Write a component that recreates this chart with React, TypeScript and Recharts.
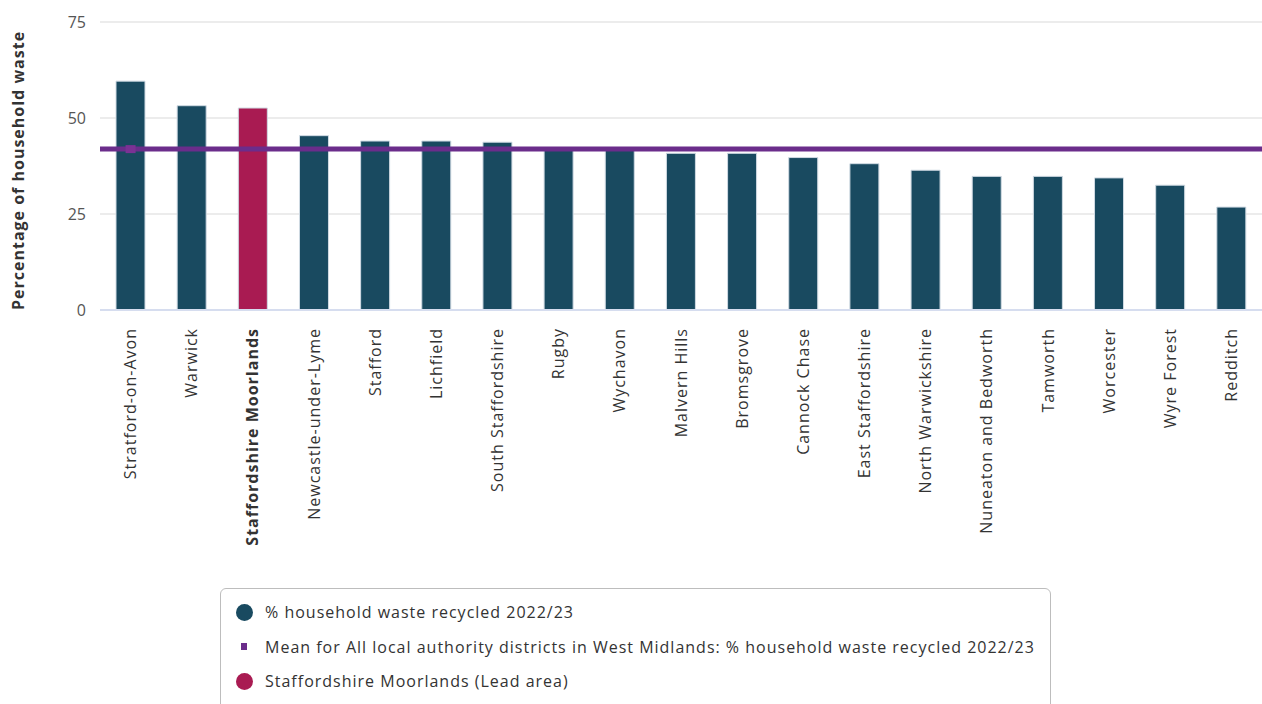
import React from "react";
import {
  BarChart,
  Bar,
  XAxis,
  YAxis,
  CartesianGrid,
  Cell,
  ReferenceLine,
  ReferenceDot,
} from "recharts";

const categories = [
  "Stratford-on-Avon",
  "Warwick",
  "Staffordshire Moorlands",
  "Newcastle-under-Lyme",
  "Stafford",
  "Lichfield",
  "South Staffordshire",
  "Rugby",
  "Wychavon",
  "Malvern Hills",
  "Bromsgrove",
  "Cannock Chase",
  "East Staffordshire",
  "North Warwickshire",
  "Nuneaton and Bedworth",
  "Tamworth",
  "Worcester",
  "Wyre Forest",
  "Redditch",
];

const recycled = [
  59.6, 53.2, 52.6, 45.4, 44.0, 44.0, 43.7, 42.3, 42.2, 40.8, 40.8, 39.7, 38.1,
  36.4, 34.8, 34.8, 34.4, 32.5, 26.8,
];

const meanValue = 41.9;
const leadArea = "Staffordshire Moorlands";
const yTicks = [0, 25, 50, 75];

const legendItems = [
  { label: "% household waste recycled 2022/23", kind: "circle", color: "#194a60" },
  {
    label:
      "Mean for All local authority districts in West Midlands: % household waste recycled 2022/23",
    kind: "square",
    color: "#6b2d8b",
  },
  { label: "Staffordshire Moorlands (Lead area)", kind: "circle", color: "#a91b52" },
];

const BAR = "#194a60";
const LEAD = "#a91b52";
const MEAN = "#6b2d8b";
const FONT = "'Open Sans', sans-serif";

const data = categories.map((name, i) => ({ name, value: recycled[i] }));

function XTick(props: any) {
  const { x, y, payload } = props;
  const bold = payload.value === leadArea;
  const ty = y + 10;
  return (
    <text
      x={x}
      y={ty}
      transform={`rotate(-90, ${x}, ${ty})`}
      textAnchor="end"
      dy="0.35em"
      fontSize={16}
      letterSpacing={1}
      fontFamily={FONT}
      fontWeight={bold ? 700 : 400}
      fill="#333"
    >
      {payload.value}
    </text>
  );
}

export default function App() {
  return (
    <div
      style={{
        position: "absolute",
        left: 0,
        top: 0,
        width: 1262,
        height: 704,
        background: "#fff",
        fontFamily: FONT,
        overflow: "hidden",
      }}
    >
      <BarChart
        width={1262}
        height={580}
        data={data}
        margin={{ top: 22, right: 0, bottom: 0, left: 0 }}
        barSize={29}
      >
        <CartesianGrid vertical={false} stroke="#e6e6e6" strokeWidth={1.5} />
        <XAxis
          dataKey="name"
          interval={0}
          height={270}
          tick={<XTick />}
          tickLine={false}
          axisLine={{ stroke: "#d6ddef", strokeWidth: 2 }}
        />
        <YAxis
          width={100}
          domain={[0, 75]}
          ticks={yTicks}
          tickLine={false}
          axisLine={false}
          tickMargin={8}
          tick={{ fontSize: 16, fill: "#555", fontFamily: FONT }}
          label={{
            value: "Percentage of household waste",
            angle: -90,
            position: "insideLeft",
            dx: 13,
            dy: 144,
            style: {
              fontSize: 16,
              fontWeight: 700,
              letterSpacing: 1,
              fill: "#333",
              fontFamily: FONT,
            },
          }}
        />
        <Bar
          dataKey="value"
          isAnimationActive={false}
          stroke="#d0dae3"
          strokeWidth={1}
        >
          {data.map((d, i) => (
            <Cell key={`c-${i}`} fill={d.name === leadArea ? LEAD : BAR} />
          ))}
        </Bar>
        <ReferenceLine y={meanValue} stroke={MEAN} strokeWidth={5} />
        <ReferenceDot
          x={categories[0]}
          y={meanValue}
          r={5}
          shape={(p: any) => (
            <rect x={p.cx - 5} y={p.cy - 4} width={10} height={8} fill="#7a3294" />
          )}
        />
      </BarChart>
      <div
        style={{
          position: "absolute",
          left: 220,
          top: 588,
          width: 831,
          height: 140,
          border: "1px solid #bdbdbd",
          borderRadius: 6,
          boxSizing: "border-box",
          paddingTop: 6,
          paddingLeft: 14,
        }}
      >
        {legendItems.map((it) => (
          <div
            key={it.label}
            style={{
              display: "flex",
              alignItems: "center",
              height: 34.5,
              fontSize: 16,
              letterSpacing: 1,
              color: "#333",
            }}
          >
            <span
              style={{
                width: 18,
                display: "inline-flex",
                justifyContent: "center",
                marginRight: 12,
              }}
            >
              {it.kind === "circle" ? (
                <span
                  style={{
                    width: 17,
                    height: 17,
                    borderRadius: "50%",
                    background: it.color,
                    display: "inline-block",
                  }}
                />
              ) : (
                <span
                  style={{
                    width: 6,
                    height: 7,
                    background: it.color,
                    display: "inline-block",
                  }}
                />
              )}
            </span>
            <span>{it.label}</span>
          </div>
        ))}
      </div>
    </div>
  );
}
